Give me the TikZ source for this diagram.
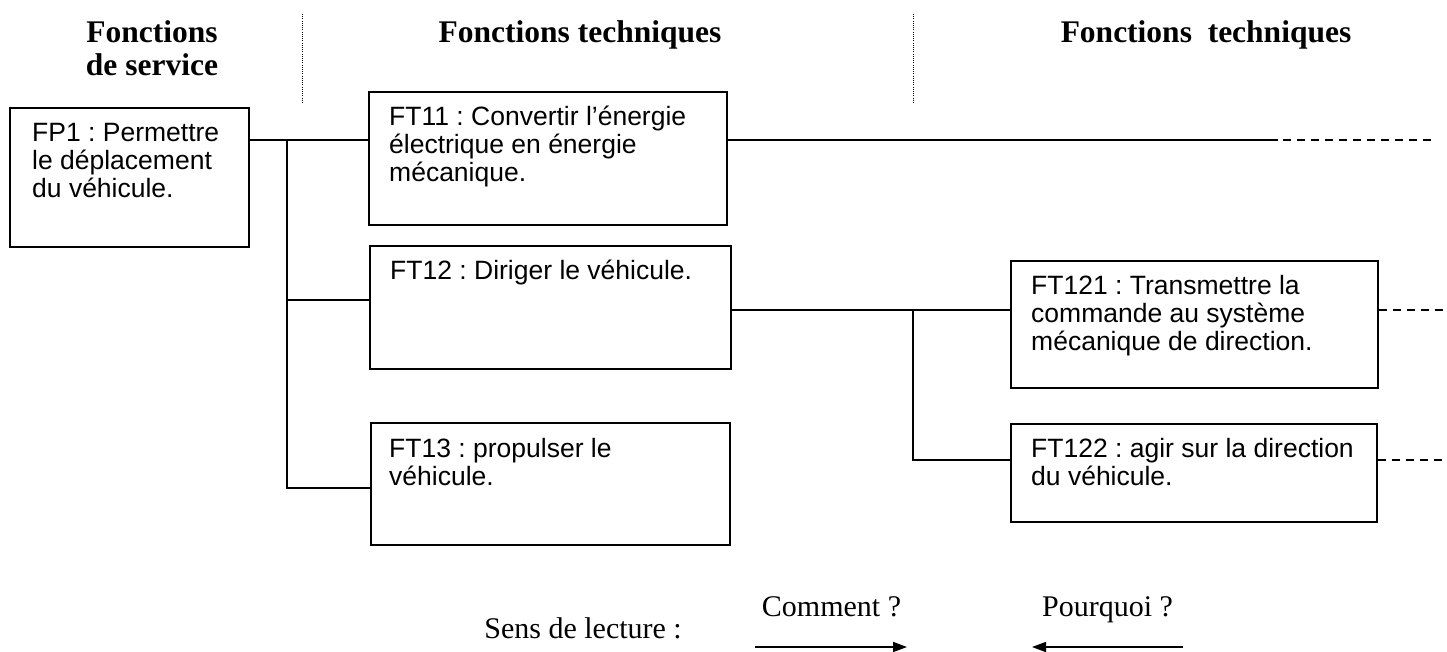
\documentclass[tikz,border=0pt]{standalone}
\usepackage{fontspec}
\setmainfont{Liberation Serif}
\setsansfont{Liberation Sans}
\usetikzlibrary{arrows.meta}
\newcommand\boxfont{\sffamily\fontsize{26.5}{28}\selectfont\frenchspacing\lineskiplimit=-20pt}
\newcommand\headfont{\rmfamily\bfseries\fontsize{31.5}{33}\selectfont}
\newcommand\notefont{\rmfamily\fontsize{30}{33}\selectfont\frenchspacing}
\begin{document}
\begin{tikzpicture}[x=1pt,y=-1pt,
  fbox/.style={draw, line width=1.6pt, inner sep=0pt, anchor=north west},
  ftext/.style={font=\boxfont, align=left, inner sep=0pt, anchor=north west},
  head/.style={font=\headfont, inner sep=0pt},
  note/.style={font=\notefont, inner sep=0pt},
  link/.style={line width=1.6pt},
  fdash/.style={line width=1.4pt, dash pattern=on 8pt off 6pt},
  sep/.style={line width=0.9pt, dash pattern=on 1pt off 1.2pt},
  readarrow/.style={line width=1.6pt, -{Triangle[length=14pt,width=10pt]}}]
\useasboundingbox (0,0) rectangle (1447,651);

% column headings
\node[head, align=center, anchor=north] (hs) at (152,19) {\strut Fonctions\\de service};
\node[head, anchor=base] (ht1) at (580,42) {Fonctions techniques};
\node[head, anchor=base] (ht2) at (1206,42) {Fonctions~~techniques};

% column separators
\coordinate (d1a) at (302.5,14);
\coordinate (d1b) at (302.5,104);
\coordinate (d2a) at (913,14);
\coordinate (d2b) at (913,104);
\draw[sep] (d1a) -- (d1b);
\draw[sep] (d2a) -- (d2b);

% function boxes
\node[fbox, minimum width=239pt, minimum height=139pt] (fp1) at (9,107) {};
\node[fbox, minimum width=358pt, minimum height=133pt] (ft11) at (368,91) {};
\node[fbox, minimum width=361pt, minimum height=123pt] (ft12) at (369,245) {};
\node[fbox, minimum width=359pt, minimum height=122pt] (ft13) at (370,422) {};
\node[fbox, minimum width=367pt, minimum height=127pt] (ft121) at (1010,260) {};
\node[fbox, minimum width=366pt, minimum height=98pt] (ft122) at (1010,423) {};

% box texts
\node[ftext] (fp1t) at ([shift={(23,15)}]fp1.north west) {\strut FP1 : Permettre\\le déplacement\\du véhicule.};
\node[ftext] (ft11t) at ([shift={(21,15)}]ft11.north west) {\strut FT11 : Convertir l’énergie\\électrique en énergie\\mécanique.};
\node[ftext] (ft12t) at ([shift={(21,15)}]ft12.north west) {\strut FT12 : Diriger le véhicule.};
\node[ftext] (ft13t) at ([shift={(19,16)}]ft13.north west) {\strut FT13 : propulser le\\véhicule.};
\node[ftext] (ft121t) at ([shift={(21,15)}]ft121.north west) {\strut FT121 : Transmettre la\\commande au système\\mécanique de direction.};
\node[ftext] (ft122t) at ([shift={(21,15)}]ft122.north west) {\strut FT122 : agir sur la direction\\du véhicule.};

% tree from FP1
\coordinate (j1) at (287,140);
\coordinate (b12) at (287,300);
\coordinate (b13) at (287,488);
\draw[link] (fp1.east |- j1) -- (ft11.west |- j1);
\draw[link] (j1) -- (b13) -- (b13 -| ft13.west);
\draw[link] (b12) -- (b12 -| ft12.west);

% continuation of FT11
\coordinate (s11) at (1278,140);
\coordinate (e11) at (1435,140);
\draw[link] (ft11.east |- s11) -- (s11);
\draw[fdash] ([xshift=5pt]s11) -- (e11);

% tree from FT12
\coordinate (j2) at (913,310);
\coordinate (b122) at (913,460);
\draw[link] (ft12.east |- j2) -- (ft121.west |- j2);
\draw[link] (j2) -- (b122) -- (b122 -| ft122.west);

% continuations of FT121 and FT122
\coordinate (e121) at (1447,310);
\coordinate (e122) at (1447,460);
\draw[fdash] (ft121.east |- e121) -- (e121);
\draw[fdash] (ft122.east |- e122) -- (e122);

% reading direction
\node[note, anchor=base east] (sens) at (682,638) {Sens de lecture :};
\node[note, anchor=base] (how) at (831.5,616) {Comment ?};
\node[note, anchor=base] (why) at (1107.5,616) {Pourquoi ?};
\coordinate (ca) at (755,647);
\coordinate (cb) at (907,647);
\coordinate (pa) at (1183,647);
\coordinate (pb) at (1032,647);
\draw[readarrow] (ca) -- (cb);
\draw[readarrow] (pa) -- (pb);
\end{tikzpicture}
\end{document}
